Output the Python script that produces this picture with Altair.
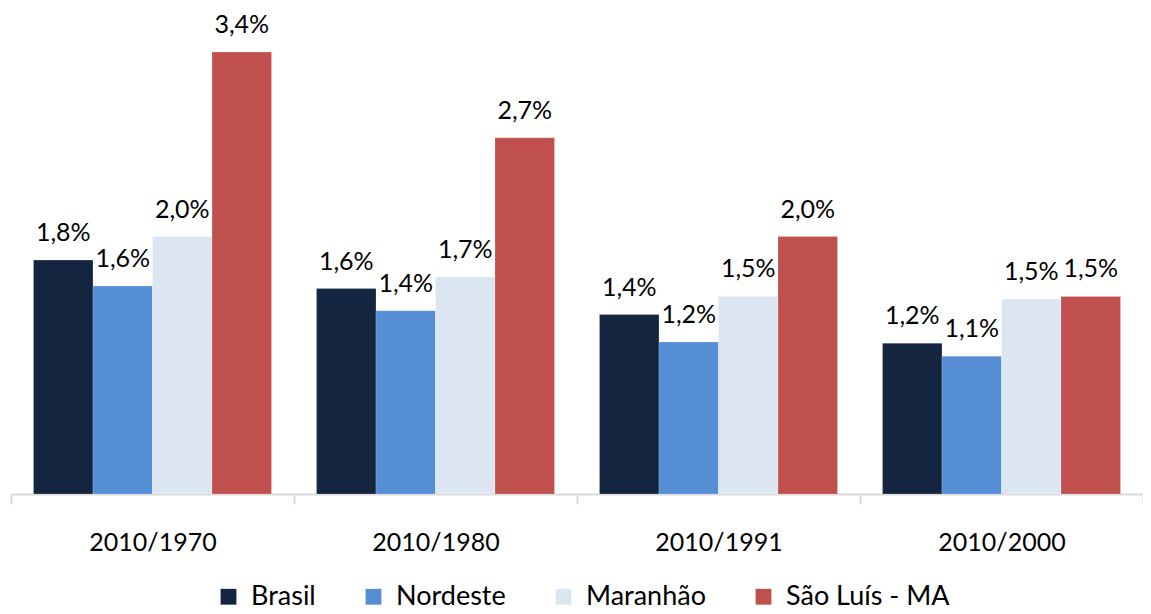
import altair as alt
import pandas as pd

periods = ["2010/1970", "2010/1980", "2010/1991", "2010/2000"]
series = ["Brasil", "Nordeste", "Maranhão", "São Luís - MA"]
colors = ["#14263F", "#558ED5", "#DCE6F2", "#C0504D"]

brasil = [1.80, 1.58, 1.38, 1.16]
nordeste = [1.60, 1.41, 1.17, 1.06]
maranhao = [1.98, 1.67, 1.52, 1.50]
sao_luis = [3.40, 2.74, 1.98, 1.52]

brasil_lbl = ["1,8%", "1,6%", "1,4%", "1,2%"]
nordeste_lbl = ["1,6%", "1,4%", "1,2%", "1,1%"]
maranhao_lbl = ["2,0%", "1,7%", "1,5%", "1,5%"]
sao_luis_lbl = ["3,4%", "2,7%", "2,0%", "1,5%"]

rows = []
for s, vals, lbls in zip(series, [brasil, nordeste, maranhao, sao_luis],
                         [brasil_lbl, nordeste_lbl, maranhao_lbl, sao_luis_lbl]):
    for p, v, l in zip(periods, vals, lbls):
        rows.append({"periodo": p, "serie": s, "valor": v, "rotulo": l})
df = pd.DataFrame(rows)

FONT = "Lato"

x = alt.X("periodo:N", sort=periods, title=None,
          scale=alt.Scale(paddingInner=0, paddingOuter=0),
          axis=alt.Axis(labelAngle=0, labelFontSize=25, labelFont=FONT,
                        labelColor="#000000", labelPadding=26,
                        domainColor="#D9D9D9", domainWidth=2,
                        tickColor="#D9D9D9", tickWidth=2, tickSize=10,
                        tickBand="extent"))
xoff = alt.XOffset("serie:N", sort=series,
                   scale=alt.Scale(paddingInner=0, paddingOuter=0.378))
y = alt.Y("valor:Q", scale=alt.Scale(domain=[0, 3.5]), axis=None)

base = alt.Chart(df).encode(x=x, xOffset=xoff, y=y)

bars = base.mark_bar(stroke="#ffffff", strokeOpacity=0.4, strokeWidth=0.5).encode(
    color=alt.Color("serie:N", sort=series, title=None,
                    scale=alt.Scale(domain=series, range=colors),
                    legend=alt.Legend(orient="none", direction="horizontal",
                                      legendX=204, legendY=544,
                                      symbolType="square", symbolSize=250,
                                      symbolStrokeWidth=0,
                                      labelFontSize=27, labelFont=FONT,
                                      labelColor="#000000", labelLimit=400,
                                      columnPadding=44, labelOffset=9))
)

labels = base.mark_text(fontSize=25, font=FONT, color="#000000",
                        baseline="alphabetic", dy=-19).encode(
    text="rotulo:N"
)

chart = alt.layer(bars, labels).properties(
    width=1132, height=455,
    background="#ffffff",
    autosize=alt.AutoSizeParams(type="none"),
    padding={"left": 3, "top": 31, "right": 0, "bottom": 118},
).configure_view(stroke=None, strokeWidth=0)

chart.save("out.html", embed_options={"renderer": "svg", "actions": False})
